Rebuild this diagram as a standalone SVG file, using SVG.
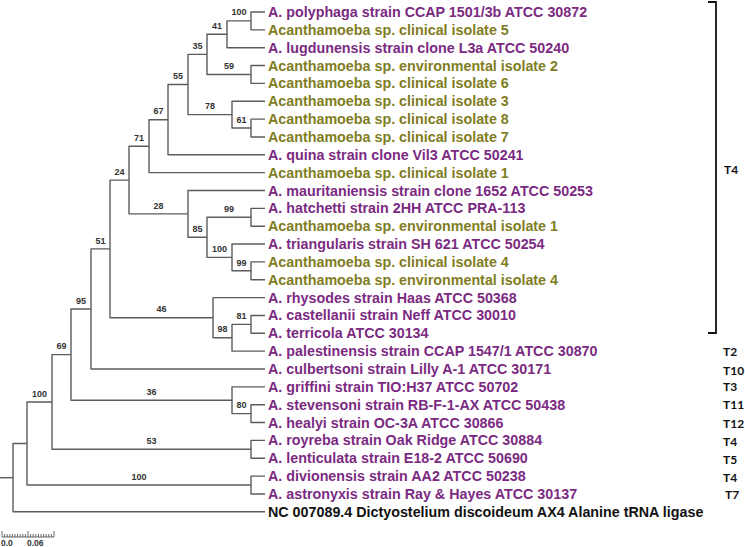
<svg xmlns="http://www.w3.org/2000/svg" width="745" height="547" viewBox="0 0 745 547">
<style>
.br{fill:none;stroke:#5c5c5c;stroke-width:1.4;stroke-linejoin:round}
.lf{font-family:"Liberation Sans",Arial,sans-serif;font-weight:bold;font-size:14.3px}
.p{fill:#7b2a82}
.o{fill:#7f7d22}
.k{fill:#111}
.bs{font-family:"Liberation Sans",Arial,sans-serif;font-weight:bold;font-size:9px;fill:#333;text-anchor:middle}
.t{font-family:Lato,"Open Sans",sans-serif;font-weight:bold;font-size:12px;fill:#111}
.sc{font-family:"Liberation Sans",Arial,sans-serif;font-weight:bold;font-size:8.5px;fill:#333}
</style>
<rect width="745" height="547" fill="#fff"/>
<g id="connectors">
<path class="br" d="M265 12 H251 V29.85 H265"/>
<path class="br" d="M251 20.9 H227 V47.7 H265"/>
<path class="br" d="M265 65.55 H251 V83.4 H265"/>
<path class="br" d="M227 34.3 H207 V74.5 H251"/>
<path class="br" d="M265 119.1 H251 V136.95 H265"/>
<path class="br" d="M265 101.25 H232 V128 H251"/>
<path class="br" d="M207 54.4 H188 V114.6 H232"/>
<path class="br" d="M188 84.5 H168 V154.8 H265"/>
<path class="br" d="M168 119.7 H149 V172.65 H265"/>
<path class="br" d="M265 208.35 H251 V226.2 H265"/>
<path class="br" d="M265 261.9 H251 V279.75 H265"/>
<path class="br" d="M265 244.05 H232 V270.8 H251"/>
<path class="br" d="M251 217.3 H207 V257.4 H232"/>
<path class="br" d="M265 190.5 H188 V237.3 H207"/>
<path class="br" d="M149 146.2 H129 V213.9 H188"/>
<path class="br" d="M265 315.45 H251 V333.3 H265"/>
<path class="br" d="M251 324.4 H232 V351.15 H265"/>
<path class="br" d="M265 297.6 H213 V337.8 H232"/>
<path class="br" d="M129 180.1 H110 V317.7 H213"/>
<path class="br" d="M110 248.9 H91 V369 H265"/>
<path class="br" d="M265 404.7 H251 V422.55 H265"/>
<path class="br" d="M265 386.85 H232 V413.6 H251"/>
<path class="br" d="M91 309 H71 V400.2 H232"/>
<path class="br" d="M265 440.4 H251 V458.25 H265"/>
<path class="br" d="M71 354.6 H52 V449.3 H251"/>
<path class="br" d="M265 476.1 H251 V493.95 H265"/>
<path class="br" d="M52 402 H27 V485 H251"/>
<path class="br" d="M27 443.5 H13 V511.8 H265"/>
<path class="br" d="M0 477.7 H13"/>
</g>
<g id="bootstrap">
<g id="n100a"><text class="bs" x="239" y="15">100</text></g>
<g id="n41"><text class="bs" x="217" y="29">41</text></g>
<g id="n35"><text class="bs" x="197.5" y="49">35</text></g>
<g id="n59"><text class="bs" x="229" y="69">59</text></g>
<g id="n55"><text class="bs" x="178" y="79">55</text></g>
<g id="n78"><text class="bs" x="210" y="109">78</text></g>
<g id="n61"><text class="bs" x="241.5" y="122.5">61</text></g>
<g id="n67"><text class="bs" x="158.5" y="114">67</text></g>
<g id="n71"><text class="bs" x="139" y="140.5">71</text></g>
<g id="n24"><text class="bs" x="119.5" y="174.5">24</text></g>
<g id="n28"><text class="bs" x="158.5" y="208.5">28</text></g>
<g id="n99a"><text class="bs" x="229" y="212">99</text></g>
<g id="n85"><text class="bs" x="197.5" y="232">85</text></g>
<g id="n100t"><text class="bs" x="219.5" y="252">100</text></g>
<g id="n99b"><text class="bs" x="241.5" y="265.5">99</text></g>
<g id="n51"><text class="bs" x="100.5" y="243.5">51</text></g>
<g id="n46"><text class="bs" x="161.5" y="312">46</text></g>
<g id="n81"><text class="bs" x="241.5" y="319">81</text></g>
<g id="n98"><text class="bs" x="222.5" y="332">98</text></g>
<g id="n95"><text class="bs" x="81" y="303.5">95</text></g>
<g id="n69"><text class="bs" x="61.5" y="349">69</text></g>
<g id="n36"><text class="bs" x="151.5" y="395">36</text></g>
<g id="n80"><text class="bs" x="241.5" y="408">80</text></g>
<g id="n53"><text class="bs" x="151.5" y="444">53</text></g>
<g id="n100big"><text class="bs" x="39.5" y="396.5">100</text></g>
<g id="ndiv"><text class="bs" x="139" y="480">100</text></g>
</g>
<g id="leaves">
<g id="leaf1"><text class="lf p" x="268" y="17">A. polyphaga strain CCAP 1501/3b ATCC 30872</text></g>
<g id="leaf2"><text class="lf o" x="268" y="34.85">Acanthamoeba sp. clinical isolate 5</text></g>
<g id="leaf3"><text class="lf p" x="268" y="52.7">A. lugdunensis strain clone L3a ATCC 50240</text></g>
<g id="leaf4"><text class="lf o" x="268" y="70.55">Acanthamoeba sp. environmental isolate 2</text></g>
<g id="leaf5"><text class="lf o" x="268" y="88.4">Acanthamoeba sp. clinical isolate 6</text></g>
<g id="leaf6"><text class="lf o" x="268" y="106.25">Acanthamoeba sp. clinical isolate 3</text></g>
<g id="leaf7"><text class="lf o" x="268" y="124.1">Acanthamoeba sp. clinical isolate 8</text></g>
<g id="leaf8"><text class="lf o" x="268" y="141.95">Acanthamoeba sp. clinical isolate 7</text></g>
<g id="leaf9"><text class="lf p" x="268" y="159.8">A. quina strain clone Vil3 ATCC 50241</text></g>
<g id="leaf10"><text class="lf o" x="268" y="177.65">Acanthamoeba sp. clinical isolate 1</text></g>
<g id="leaf11"><text class="lf p" x="268" y="195.5">A. mauritaniensis strain clone 1652 ATCC 50253</text></g>
<g id="leaf12"><text class="lf p" x="268" y="213.35">A. hatchetti strain 2HH ATCC PRA-113</text></g>
<g id="leaf13"><text class="lf o" x="268" y="231.2">Acanthamoeba sp. environmental isolate 1</text></g>
<g id="leaf14"><text class="lf p" x="268" y="249.05">A. triangularis strain SH 621 ATCC 50254</text></g>
<g id="leaf15"><text class="lf o" x="268" y="266.9">Acanthamoeba sp. clinical isolate 4</text></g>
<g id="leaf16"><text class="lf o" x="268" y="284.75">Acanthamoeba sp. environmental isolate 4</text></g>
<g id="leaf17"><text class="lf p" x="268" y="302.6">A. rhysodes strain Haas ATCC 50368</text></g>
<g id="leaf18"><text class="lf p" x="268" y="320.45">A. castellanii strain Neff ATCC 30010</text></g>
<g id="leaf19"><text class="lf p" x="268" y="338.3">A. terricola ATCC 30134</text></g>
<g id="leaf20"><text class="lf p" x="268" y="356.15">A. palestinensis strain CCAP 1547/1 ATCC 30870</text></g>
<g id="leaf21"><text class="lf p" x="268" y="374">A. culbertsoni strain Lilly A-1 ATCC 30171</text></g>
<g id="leaf22"><text class="lf p" x="268" y="391.85">A. griffini strain TIO:H37 ATCC 50702</text></g>
<g id="leaf23"><text class="lf p" x="268" y="409.7">A. stevensoni strain RB-F-1-AX ATCC 50438</text></g>
<g id="leaf24"><text class="lf p" x="268" y="427.55">A. healyi strain OC-3A ATCC 30866</text></g>
<g id="leaf25"><text class="lf p" x="268" y="445.4">A. royreba strain Oak Ridge ATCC 30884</text></g>
<g id="leaf26"><text class="lf p" x="268" y="463.25">A. lenticulata strain E18-2 ATCC 50690</text></g>
<g id="leaf27"><text class="lf p" x="268" y="481.1">A. divionensis strain AA2 ATCC 50238</text></g>
<g id="leaf28"><text class="lf p" x="268" y="498.95">A. astronyxis strain Ray &amp; Hayes ATCC 30137</text></g>
<g id="leaf29"><text class="lf k" x="268" y="516.8">NC 007089.4 Dictyostelium discoideum AX4 Alanine tRNA ligase</text></g>
</g>
<g id="genotypes">
<path d="M708 2 H716 V333 H708" fill="none" stroke="#111" stroke-width="1.8"/>
<text class="t" x="724" y="174">T4</text>
<text class="t" x="723" y="356">T2</text>
<text class="t" x="723" y="375">T10</text>
<text class="t" x="723" y="391">T3</text>
<text class="t" x="723" y="409">T11</text>
<text class="t" x="723" y="428">T12</text>
<text class="t" x="723" y="446">T4</text>
<text class="t" x="723" y="464">T5</text>
<text class="t" x="723" y="482">T4</text>
<text class="t" x="725" y="499">T7</text>
</g>
<g id="scalebar" stroke="#444" stroke-width="0.8">
<path d="M2 537 H54"/>
<path d="M2 537 V531 M28 537 V531 M54 537 V531"/>
<path d="M4.6 537 V534 M7.2 537 V534 M9.8 537 V534 M12.4 537 V534 M15 537 V534 M17.6 537 V534 M20.2 537 V534 M22.8 537 V534 M25.4 537 V534 M30.6 537 V534 M33.2 537 V534 M35.8 537 V534 M38.4 537 V534 M41 537 V534 M43.6 537 V534 M46.2 537 V534 M48.8 537 V534 M51.4 537 V534"/>
<text class="sc" stroke="none" x="1" y="546">0.0</text>
<text class="sc" stroke="none" x="27" y="546">0.06</text>
</g>
</svg>
